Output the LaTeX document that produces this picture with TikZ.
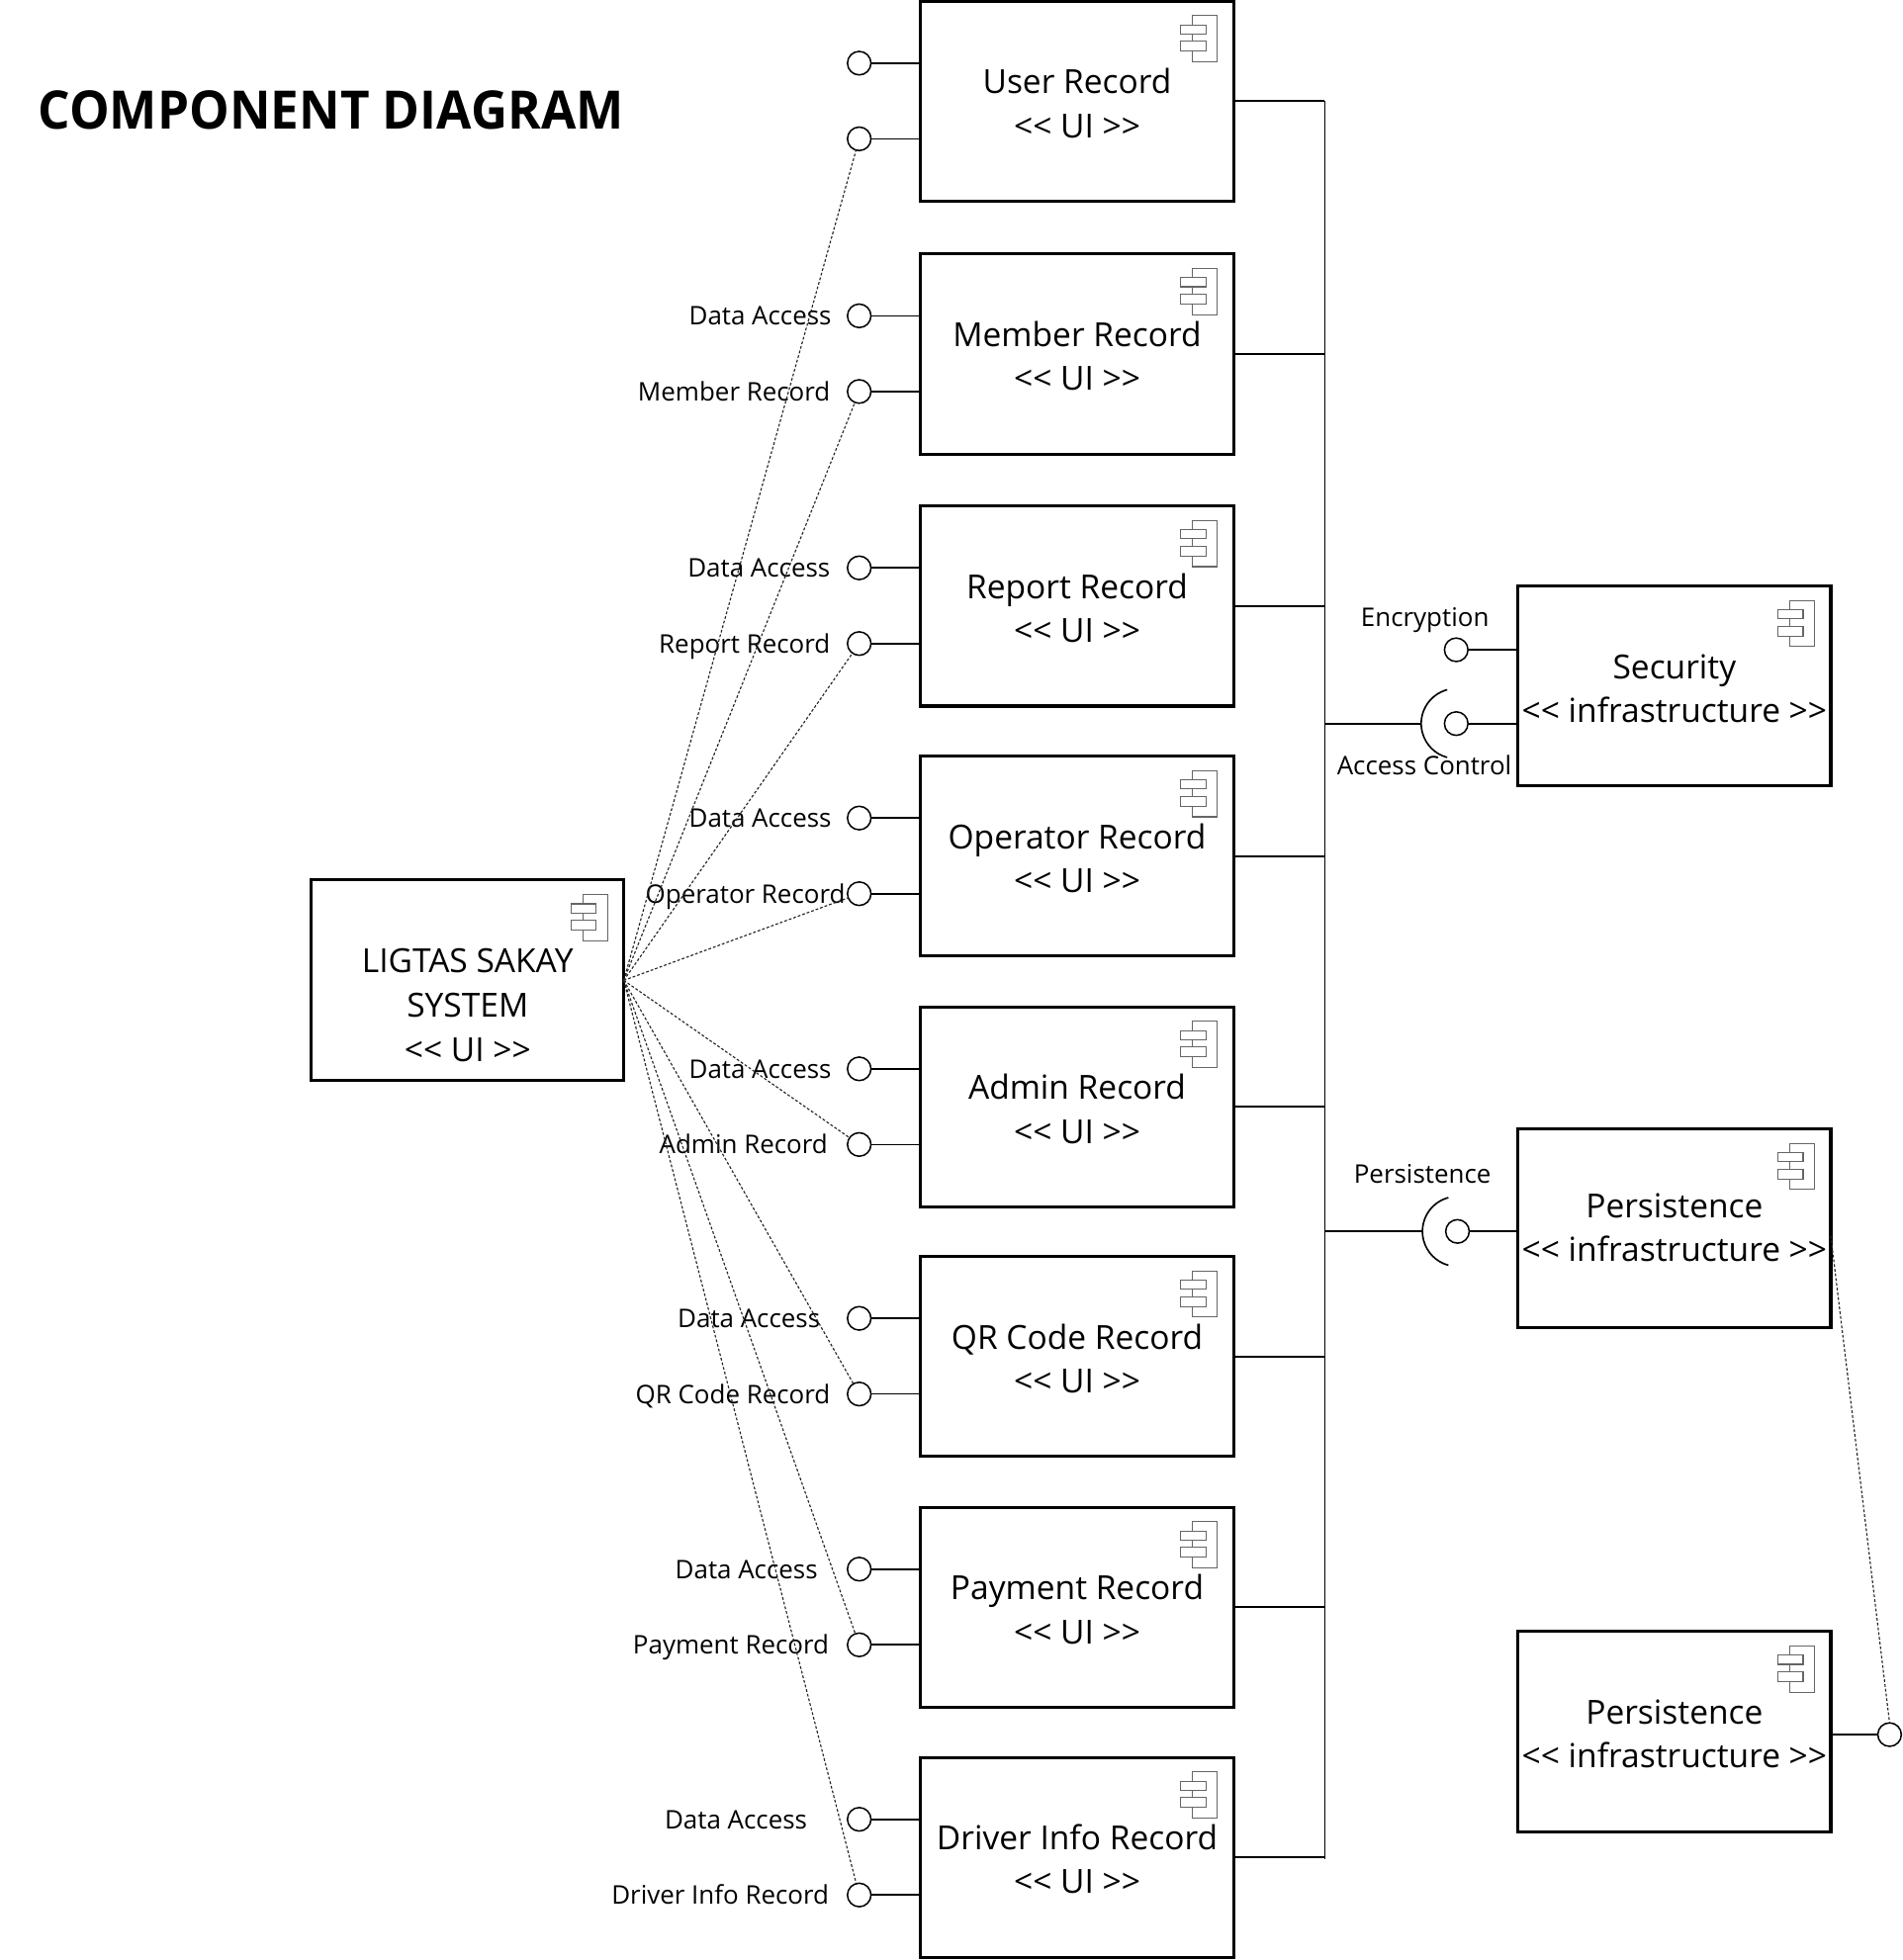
\documentclass[tikz,border=0pt]{standalone}
\usepackage{fontspec}
\setmainfont{Open Sans}[Ligatures=TeXOff]
\usepackage{graphicx}
\usetikzlibrary{calc}
\tikzset{
  cbox/.style={draw, line width=1.2pt, minimum width=125pt, minimum height=80pt, inner sep=0pt, outer sep=0pt, anchor=north west},
  ctext/.style={font=\fontsize{13.25pt}{16pt}\selectfont, inner sep=0pt, anchor=base},
  lbl/.style={font=\fontsize{10.25pt}{12pt}\selectfont, inner sep=0pt, anchor=base east},
  clbl/.style={font=\fontsize{10.25pt}{12pt}\selectfont, inner sep=0pt, anchor=base},
  port/.style={draw, circle, line width=0.6pt, minimum size=9.4pt, inner sep=0pt, outer sep=0pt, fill=white},
  conn/.style={line width=0.65pt},
  busline/.style={line width=0.75pt},
  dep/.style={line width=0.45pt, dash pattern=on 1.1pt off 0.8pt, black!85},
  icon/.style={draw=black!60, line width=0.45pt, fill=white},
}
\newcommand\cicon[1]{%
  \draw[icon] ([shift={(-32.7,11.5)}]#1.north east) rectangle ([shift={(-13,48.5)}]#1.north east);
  \draw[icon] ([shift={(-42.2,19)}]#1.north east) rectangle ([shift={(-22.1,26.3)}]#1.north east);
  \draw[icon] ([shift={(-42.2,32.1)}]#1.north east) rectangle ([shift={(-22.1,40)}]#1.north east);
}
\newcommand\comp[5]{%
  \node[cbox] (#1) at (#2,#3) {};
  \cicon{#1}
  \node[ctext] (#1-a) at ($(#1.north)+(0,74)$) {#4};
  \node[ctext] (#1-b) at ($(#1.north)+(0,109)$) {#5};
}
\newcommand\ports[2]{%
  \node[port] (#1-p1) at (686.8,{#2+49.5}) {};
  \node[port] (#1-p2) at (686.8,{#2+110}) {};
  \draw[conn] (#1-p1.east) -- (#1-p1.east -| #1.west);
  \draw[conn] (#1-p2.east) -- (#1-p2.east -| #1.west);
  \draw[busline] (#1.east) -- (#1.east -| bustop);
}
\begin{document}
\begin{tikzpicture}[x=0.5pt, y=-0.5pt]
  \path[fill=white] (0,0) rectangle (1521,1567);
  \useasboundingbox (0,0) rectangle (1521,1567);

  % title
  \node[anchor=base west, inner sep=0pt, font=\fontsize{21.2pt}{24pt}\selectfont\bfseries] (title) at (30,102.8) {\scalebox{0.955}[1]{COMPONENT DIAGRAM}};

  % bus
  \coordinate (bustop) at (1059,81);
  \coordinate (busbot) at (1059,1486);
  \draw[busline] (bustop) -- (busbot);

  % record components
  \comp{user}{736}{1}{User Record}{<< UI >>}
  \comp{member}{736}{203}{Member Record}{<< UI >>}
  \comp{report}{736}{404.5}{Report Record}{<< UI >>}
  \comp{oper}{736}{604.5}{Operator Record}{<< UI >>}
  \comp{admin}{736}{805}{Admin Record}{<< UI >>}
  \comp{qr}{736}{1004.5}{QR Code Record}{<< UI >>}
  \comp{pay}{736}{1205}{Payment Record}{<< UI >>}
  \comp{driver}{736}{1405}{Driver Info Record}{<< UI >>}

  \ports{user}{1}
  \ports{member}{203}
  \ports{report}{404.5}
  \ports{oper}{604.5}
  \ports{admin}{805}
  \ports{qr}{1004.5}
  \ports{pay}{1205}
  \ports{driver}{1405}

  % port labels
  \node[lbl] (member-l1) at (665,{203+57}) {Data Access};
  \node[lbl] (member-l2) at (664,{203+117.5}) {Member Record};
  \node[lbl] (report-l1) at (664,{404.5+57}) {Data Access};
  \node[lbl] (report-l2) at (664,{404.5+117.5}) {Report Record};
  \node[lbl] (oper-l1) at (665,{604.5+57}) {Data Access};
  \node[lbl] (oper-l2) at (676,{604.5+117.5}) {Operator Record};
  \node[lbl] (admin-l1) at (665,{805+57}) {Data Access};
  \node[lbl] (admin-l2) at (662,{805+117.5}) {Admin Record};
  \node[lbl] (qr-l1) at (656,{1004.5+57}) {Data Access};
  \node[lbl] (qr-l2) at (664,{1004.5+117.5}) {QR Code Record};
  \node[lbl] (pay-l1) at (654,{1205+57}) {Data Access};
  \node[lbl] (pay-l2) at (663,{1205+117.5}) {Payment Record};
  \node[lbl] (driver-l1) at (645.6,{1405+57}) {Data Access};
  \node[lbl] (driver-l2) at (663,{1405+117.5}) {Driver Info Record};

  % main system
  \node[cbox, minimum width=124.8pt, minimum height=80.2pt] (sys) at (249,703.6) {};
  \cicon{sys}
  \node[ctext] (sys-a) at (373.8,777.3) {LIGTAS SAKAY};
  \node[ctext] (sys-b) at (373.8,813.5) {SYSTEM};
  \node[ctext] (sys-c) at (373.8,848.5) {<< UI >>};

  % dependencies from system to record ports
  \foreach \n in {user,member,report,oper,admin,qr,pay,driver}{
    \draw[dep] (sys.east) -- (\n-p2);
  }

  % security infrastructure
  \comp{sec}{1213.4}{468.5}{Security}{<< infrastructure >>}
  \node[port] (enc) at (1164,519.5) {};
  \draw[conn] (enc.east) -- (enc.east -| sec.west);
  \node[clbl] (enc-l) at (1139,501) {Encryption};
  \node[port] (acc) at (1164,578.5) {};
  \draw[conn] (acc.east) -- (acc.east -| sec.west);
  \draw[conn] ([shift={(105:14pt)}]acc.center) arc[start angle=105, end angle=255, radius=14pt];
  \draw[busline] (acc.center -| bustop) -- ([xshift=-14pt]acc.center);
  \node[clbl] (acc-l) at (1138.5,619.8) {Access Control};

  % persistence infrastructure 1
  \node[cbox, minimum height=79.5pt] (pers1) at (1213.4,902.5) {};
  \cicon{pers1}
  \node[ctext] (pers1-a) at ($(pers1.north)+(0,71)$) {Persistence};
  \node[ctext] (pers1-b) at ($(pers1.north)+(0,106)$) {<< infrastructure >>};
  \node[port] (pst) at (1165,984.5) {};
  \draw[conn] (pst.east) -- (pst.east -| pers1.west);
  \draw[conn] ([shift={(105:14pt)}]pst.center) arc[start angle=105, end angle=255, radius=14pt];
  \draw[busline] (pst.center -| bustop) -- ([xshift=-14pt]pst.center);
  \node[clbl] (pst-l) at (1137,946) {Persistence};

  % persistence infrastructure 2
  \comp{pers2}{1213.4}{1304.3}{Persistence}{<< infrastructure >>}
  \node[port] (pc) at (1510.4,1386.8) {};
  \draw[conn] (pc.west) -- (pc.west -| pers2.east);
  \draw[dep] ([yshift=-3pt]pers1.east) -- (pc.north);
\end{tikzpicture}
\end{document}
